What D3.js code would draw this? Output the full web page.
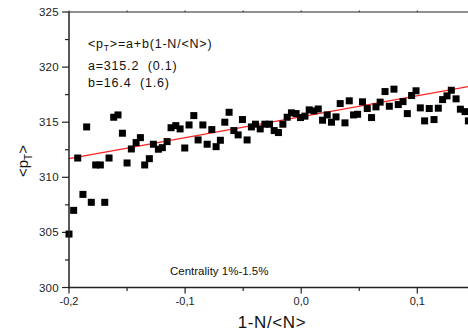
<!DOCTYPE html>
<html>
<head>
<meta charset="utf-8">
<script src="https://cdn.jsdelivr.net/npm/d3@7/dist/d3.min.js"></script>
<style>
  html, body { margin: 0; padding: 0; background: #fff; }
  svg { display: block; font-family: "Liberation Sans", Arial, sans-serif; }
</style>
</head>
<body>
<svg id="chart" width="468" height="333"></svg>
<script>
// ---- data ----
const xValues = [
  -0.2, -0.196, -0.1925, -0.188, -0.1848, -0.1808, -0.177, -0.173, -0.1692, -0.1655,
  -0.1615, -0.1578, -0.154, -0.150, -0.1463, -0.1422, -0.1385, -0.1348, -0.1308, -0.1273,
  -0.123, -0.1196, -0.1155, -0.1121, -0.108, -0.1043, -0.1003, -0.0966, -0.0925, -0.0888,
  -0.0847, -0.081, -0.077, -0.0733, -0.0696, -0.0658, -0.0621, -0.058, -0.0543, -0.0506,
  -0.0466, -0.0429, -0.0394, -0.0353, -0.0313, -0.0273, -0.0233, -0.0196, -0.0158, -0.0121,
  -0.0084, -0.0044, -0.0006, 0.0032, 0.0069, 0.011, 0.0147, 0.0184, 0.0224, 0.0261,
  0.030, 0.0336, 0.0377, 0.0414, 0.0451, 0.0486, 0.0528, 0.0569, 0.0606, 0.0644,
  0.068, 0.0722, 0.0759, 0.0799, 0.0836, 0.0877, 0.0914, 0.0951, 0.0989, 0.1026,
  0.1063, 0.1103, 0.1144, 0.1181, 0.1218, 0.1256, 0.1293, 0.1334, 0.1371, 0.1411,
  0.1440
];
const ptValues = [
  304.85, 307.0, 311.75, 308.45, 314.57, 307.73, 311.12, 311.12, 307.73, 311.75,
  315.45, 315.66, 314.0, 311.3, 312.57, 313.15, 313.6, 311.12, 311.69, 313.0,
  312.55, 312.69, 313.24, 314.5, 314.69, 314.39, 312.66, 314.75, 315.6, 313.39,
  314.75, 313.0, 314.33, 312.78, 313.36, 315.0, 315.9, 314.24, 313.85, 315.24,
  313.39, 314.57, 314.82, 314.39, 314.82, 314.82, 314.24, 314.06, 314.82, 315.45,
  315.85, 315.78, 315.42, 315.55, 316.12, 316.03, 316.2, 315.18, 315.66, 315.0,
  315.48, 316.69, 314.94, 316.94, 315.66, 315.72, 316.85, 316.24, 315.42, 316.39,
  316.82, 317.78, 316.45, 318.0, 316.6, 316.87, 315.78, 317.42, 317.85, 316.3,
  315.12, 316.24, 315.24, 316.27, 317.05, 317.39, 317.9, 317.12, 316.18, 315.96,
  315.12
];
// linear fit line end points
const fitX = [-0.2, 0.145];
const fitY = [311.7, 318.25];

const yTicks = [300, 305, 310, 315, 320, 325];
const yMinorTicks = [302.5, 307.5, 312.5, 317.5, 322.5];
const xTicks = [-0.2, -0.1, 0.0, 0.1];
const xMinorTicks = [-0.15, -0.05, 0.05, 0.15];
const xTickLabels = ["-0,2", "-0,1", "0,0", "0,1"];

const annotation = ["a=315.2  (0.1)", "b=16.4  (1.6)"];
const centralityText = "Centrality 1%-1.5%";

// ---- layout ----
const svg = d3.select("#chart");
const mLeft = 69, mTop = 12, mBottom = 287.5;
const x = d3.scaleLinear().domain([-0.2, 0.1]).range([mLeft, 417.3]);
const y = d3.scaleLinear().domain([300, 325]).range([mBottom, mTop]);
const rightEdge = 470;
const axisColor = "#222";

// axes lines
const g = svg.append("g");
g.append("line").attr("x1", mLeft).attr("x2", rightEdge).attr("y1", mBottom).attr("y2", mBottom)
  .attr("stroke", axisColor).attr("stroke-width", 1.5);
g.append("line").attr("x1", mLeft).attr("x2", rightEdge).attr("y1", mTop).attr("y2", mTop)
  .attr("stroke", axisColor).attr("stroke-width", 1.2);

// y ticks
g.selectAll(".ytick").data(yTicks).enter().append("line")
  .attr("x1", mLeft - 7).attr("x2", mLeft).attr("y1", d => y(d)).attr("y2", d => y(d))
  .attr("stroke", axisColor).attr("stroke-width", 1.2);
g.selectAll(".yminor").data(yMinorTicks).enter().append("line")
  .attr("x1", mLeft - 4).attr("x2", mLeft).attr("y1", d => y(d)).attr("y2", d => y(d))
  .attr("stroke", axisColor).attr("stroke-width", 1.2);
g.selectAll(".ylabel").data(yTicks).enter().append("text")
  .attr("x", mLeft - 10).attr("y", d => y(d) + 4)
  .attr("text-anchor", "end").attr("font-size", 11.5).attr("letter-spacing", 0.3).attr("fill", "#222")
  .text(d => d);

// x ticks (bottom)
g.selectAll(".xtick").data(xTicks).enter().append("line")
  .attr("x1", d => x(d)).attr("x2", d => x(d)).attr("y1", mBottom).attr("y2", mBottom + 6)
  .attr("stroke", axisColor).attr("stroke-width", 1.2);
g.selectAll(".xminor").data(xMinorTicks.filter(d => x(d) < rightEdge)).enter().append("line")
  .attr("x1", d => x(d)).attr("x2", d => x(d)).attr("y1", mBottom).attr("y2", mBottom + 3.5)
  .attr("stroke", axisColor).attr("stroke-width", 1.2);
g.selectAll(".xlabel").data(xTicks).enter().append("text")
  .attr("x", d => x(d)).attr("y", mBottom + 17)
  .attr("text-anchor", "middle").attr("font-size", 11).attr("fill", "#222")
  .text((d, i) => xTickLabels[i]);

// top tiny ticks
g.selectAll(".ttick").data(xTicks.concat(xMinorTicks).filter(d => x(d) < rightEdge)).enter().append("line")
  .attr("x1", d => x(d)).attr("x2", d => x(d)).attr("y1", mTop).attr("y2", mTop - 1.5)
  .attr("stroke", axisColor).attr("stroke-width", 1);

// axis titles
svg.append("text").attr("x", 272).attr("y", 328).attr("text-anchor", "middle")
  .attr("font-size", 17).attr("letter-spacing", 0.6).attr("fill", "#111").text("1-N/<N>");
const yt = svg.append("text").attr("transform", "translate(28,161) rotate(-90)")
  .attr("text-anchor", "middle").attr("font-size", 15).attr("fill", "#111");
yt.append("tspan").text("<p");
yt.append("tspan").attr("font-size", 10).attr("dy", 4).text("T");
yt.append("tspan").attr("dy", -4).text(">");

// fit line
svg.append("line")
  .attr("x1", x(fitX[0])).attr("y1", y(fitY[0]))
  .attr("x2", x(fitX[1])).attr("y2", y(fitY[1]))
  .attr("stroke", "#ff2020").attr("stroke-width", 1.2);

// points
const pts = xValues.map((d, i) => ({ x: d, y: ptValues[i] }));
const s = 7;
svg.append("g").selectAll("rect").data(pts).enter().append("rect")
  .attr("x", d => x(d.x) - s / 2).attr("y", d => y(d.y) - s / 2)
  .attr("width", s).attr("height", s).attr("fill", "#000");

// left axis drawn above points
svg.append("line").attr("x1", mLeft).attr("x2", mLeft).attr("y1", mTop).attr("y2", mBottom + 0.75)
  .attr("stroke", axisColor).attr("stroke-width", 1.5);

// annotations
const ann = svg.append("text").attr("x", 88).attr("y", 48).attr("font-size", 12.5)
  .attr("letter-spacing", 0.8).attr("fill", "#111");
ann.append("tspan").text("<p");
ann.append("tspan").attr("font-size", 8.5).attr("dy", 3).text("T");
ann.append("tspan").attr("dy", -3).text(">=a+b(1-N/<N>)");
svg.selectAll(".ann").data(annotation).enter().append("text")
  .attr("x", 88).attr("y", (d, i) => 70 + i * 16.5)
  .attr("font-size", 12.5).attr("letter-spacing", 0.8).attr("fill", "#111").attr("xml:space", "preserve")
  .style("white-space", "pre").text(d => d);
svg.append("text").attr("x", 170).attr("y", 275).attr("font-size", 11.5).attr("fill", "#111")
  .text(centralityText);
</script>
</body>
</html>
